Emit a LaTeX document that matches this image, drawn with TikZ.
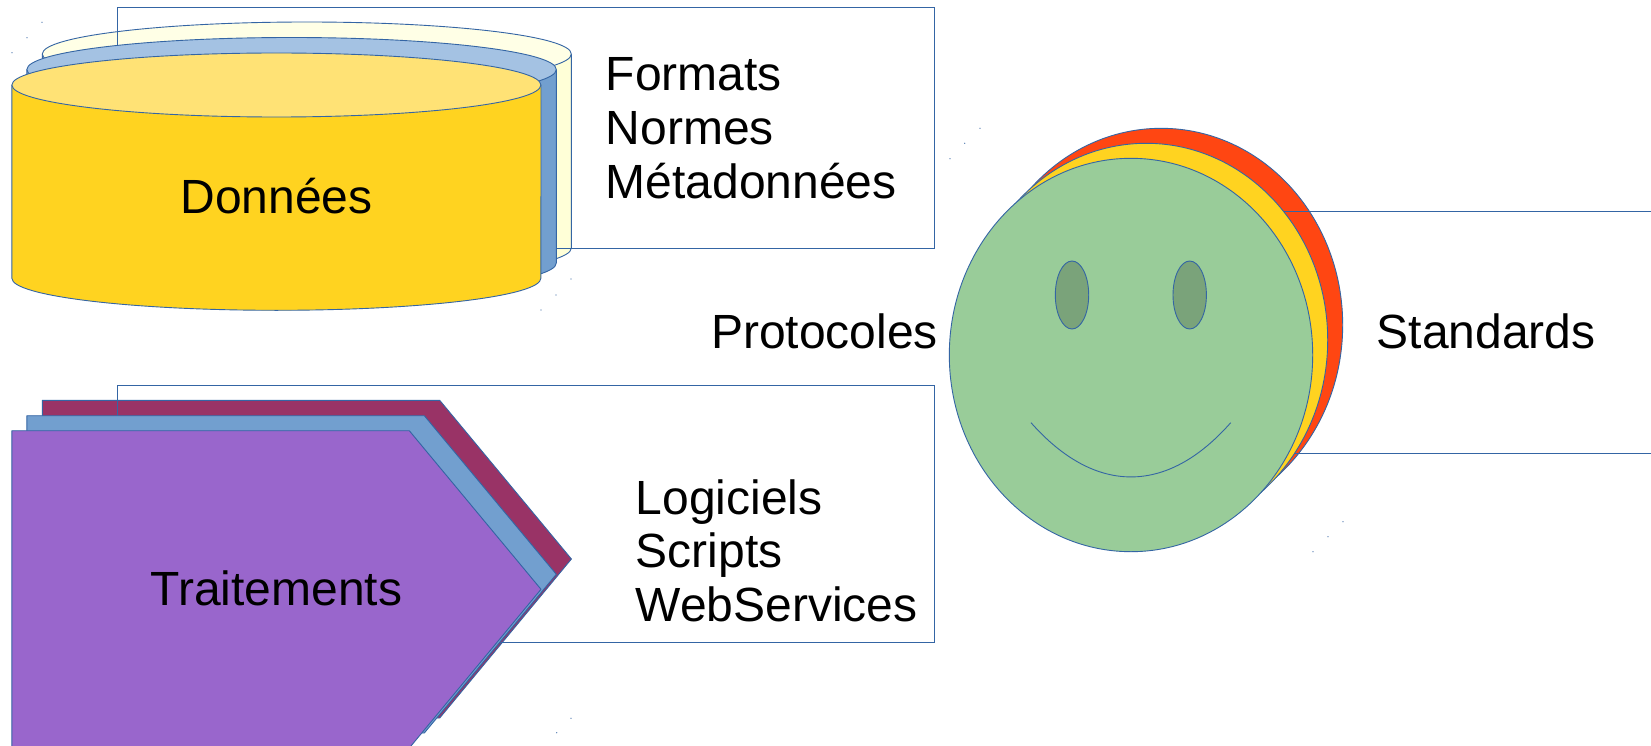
\documentclass[tikz,border=0pt]{standalone}
\usepackage{fontspec}
\setmainfont{Liberation Sans}
\definecolor{trait}{HTML}{3465A4}
\definecolor{jaune}{HTML}{FFD320}
\definecolor{jauneclair}{HTML}{FFE275}
\definecolor{bleu}{HTML}{729FCF}
\definecolor{bleuclair}{HTML}{A4C2E3}
\definecolor{creme}{HTML}{FFFFD7}
\definecolor{cremeclair}{HTML}{FFFFE6}
\definecolor{bordeaux}{HTML}{993366}
\definecolor{violet}{HTML}{9966CC}
\definecolor{rouge}{HTML}{FF4612}
\definecolor{vert}{HTML}{99CC99}
\definecolor{vertfonce}{HTML}{7AA37A}
\tikzset{
  forme/.style={draw=trait,line width=0.9pt,line join=round},
  cadre/.style={draw=trait,line width=0.9pt},
  texte/.style={inner sep=0pt,text=black,font=\fontsize{48}{54}\selectfont},
  titre/.style={texte,anchor=base west},
}
\begin{document}
\begin{tikzpicture}[x=1pt,y=-1pt]
    \useasboundingbox (0,0) rectangle (1651,746);
    \fill[white] (0,0) rectangle (1651,746);
    % donnees, cylindre du fond
    \draw[forme,fill=creme] (42.3,54) -- (42.3,248) arc (180:0:264.5 and 32) -- (571.4,54);
    \draw[forme,fill=cremeclair] (306.8,54) ellipse [x radius=264.5,y radius=32];
    \draw[cadre] (117.4,7) rectangle (934,248.5);
    % cylindre du milieu
    \draw[forme,fill=bleu] (26.9,69.5) -- (26.9,263) arc (180:0:264.7 and 32) -- (556.3,69.5);
    \draw[forme,fill=bleuclair] (291.6,69.5) ellipse [x radius=264.7,y radius=32];
    % cylindre de devant
    \draw[forme,fill=jaune] (11.9,85) -- (11.9,278.3) arc (180:0:264.5 and 32) -- (541,85);
    \draw[forme,fill=jauneclair] (276.4,85) ellipse [x radius=264.5,y radius=32];
    % traitements
    \draw[forme,fill=bordeaux] (42.3,400.3) -- (439.7,400.3) -- (571.4,559) -- (439.7,718) -- (42.3,718) -- cycle;
    \draw[cadre] (117.4,385.3) rectangle (934,642.3);
    \draw[forme,fill=bleu] (26.9,415.7) -- (424.3,415.7) -- (556.3,574.3) -- (424.3,733) -- (26.9,733) -- cycle;
    \draw[forme,fill=violet] (11.9,430.7) -- (409.3,430.7) -- (541,589.3) -- (409.3,748) -- (11.9,748) -- cycle;
    % visage
    \draw[forme,fill=rouge] (1161.2,325) ellipse [x radius=181.5,y radius=196.7];
    \draw[cadre] (1100,211) rectangle (1700,453.3);
    \draw[forme,fill=jaune] (1146.2,340) ellipse [x radius=181.5,y radius=196.7];
    \draw[forme,fill=vert] (1131,355) ellipse [x radius=181.7,y radius=196.7];
    \draw[forme,fill=vertfonce] (1072,295) ellipse [x radius=16.7,y radius=34];
    \draw[forme,fill=vertfonce] (1189.7,295) ellipse [x radius=16.7,y radius=34];
    \draw[forme] (1031,422.7) .. controls (1095,495) and (1167,495) .. (1230.7,422.7);
    % points de reperes
    \foreach \px/\py in {12/52.7,27/37.7,42/22.3,571/279,556/295,541/310,571/718.3,556.7/732.7,
      980/128.3,964.7/143.3,950/158.7,1343/521.7,1328/536.7,1313/551.7}
      \fill[trait] (\px,\py) circle (0.6);
    % textes
    \node[texte] (donnees) at (276.5,196) {Données};
    \node[texte] (traitements) at (276.5,588) {Traitements};
    \node[titre] (formats) at (605.5,91) {Formats};
    \node[titre] (normes) at (605.5,144.5) {Normes};
    \node[titre] (metadonnees) at (605.5,198.5) {Métadonnées};
    \node[titre] (logiciels) at (635.5,514) {Logiciels};
    \node[titre] (scripts) at (635.5,567.5) {Scripts};
    \node[titre] (webservices) at (635.5,621.5) {WebServices};
    \node[titre] (protocoles) at (711,348) {Protocoles};
    \node[titre] (standards) at (1376.5,348) {Standards};
\end{tikzpicture}
\end{document}
